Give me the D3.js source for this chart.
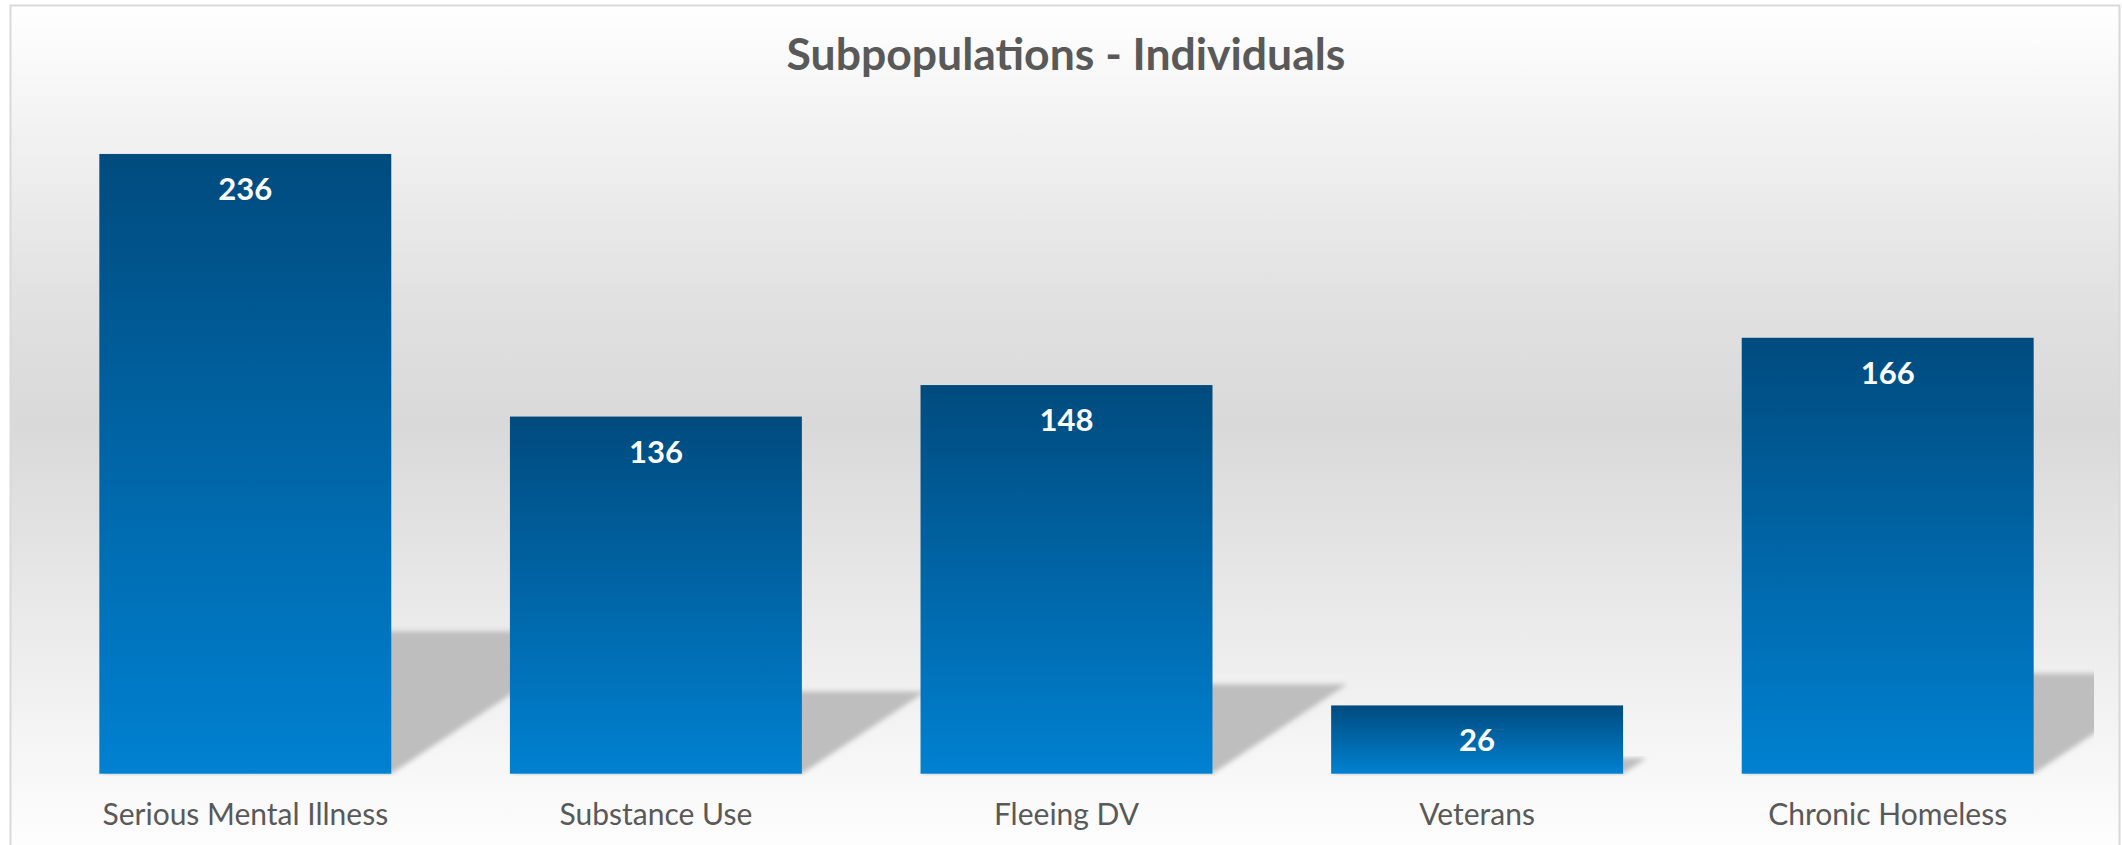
<!DOCTYPE html>
<html lang="en">
<head>
<meta charset="utf-8" />
<title>Subpopulations - Individuals</title>
<script src="https://cdn.jsdelivr.net/npm/d3@7"></script>
<style>
  body { margin: 0; background: #ffffff; }
  svg { display: block; }
  text { font-family: Lato, "Open Sans", sans-serif; }
</style>
</head>
<body>
<div id="chart"></div>
<script>
// data
var categories = ["Serious Mental Illness", "Substance Use", "Fleeing DV", "Veterans", "Chronic Homeless"];
var values = [236, 136, 148, 26, 166];
var title = "Subpopulations - Individuals";

var width = 2122, height = 845;
var plotLeft = 40, plotRight = 2094, baseY = 773.7, yMax = 250;

var svg = d3.select("#chart").append("svg")
    .attr("width", width)
    .attr("height", height);

var defs = svg.append("defs");

// chart background (light grey band in the middle)
var bg = defs.append("linearGradient")
    .attr("id", "bgGrad")
    .attr("gradientUnits", "userSpaceOnUse")
    .attr("x1", 0).attr("y1", 5).attr("x2", 0).attr("y2", 845);
bg.append("stop").attr("offset", "0%").attr("stop-color", "#ffffff");
bg.append("stop").attr("offset", "35%").attr("stop-color", "#e1e1e1");
bg.append("stop").attr("offset", "50%").attr("stop-color", "#d9d9d9");
bg.append("stop").attr("offset", "92%").attr("stop-color", "#f8f8f8");
bg.append("stop").attr("offset", "100%").attr("stop-color", "#fdfdfd");

// bar fill, dark navy on top to bright blue at the bottom
var barGrad = defs.append("linearGradient")
    .attr("id", "barGrad")
    .attr("x1", 0).attr("y1", 0).attr("x2", 0).attr("y2", 1);
barGrad.append("stop").attr("offset", "0%").attr("stop-color", "#004b7e");
barGrad.append("stop").attr("offset", "100%").attr("stop-color", "#0081d1");

defs.append("filter")
    .attr("id", "soft")
    .attr("x", "-10%").attr("y", "-10%").attr("width", "120%").attr("height", "120%")
  .append("feGaussianBlur")
    .attr("stdDeviation", 2.5);

defs.append("clipPath")
    .attr("id", "plotClip")
  .append("rect")
    .attr("x", plotLeft).attr("y", 0)
    .attr("width", plotRight - plotLeft).attr("height", baseY + 2);

svg.append("rect")
    .attr("x", 10.5).attr("y", 5.5)
    .attr("width", 2109).attr("height", 860)
    .attr("fill", "url(#bgGrad)")
    .attr("stroke", "#d9d9d9")
    .attr("stroke-width", 2);

var x = d3.scaleBand()
    .domain(categories)
    .range([plotLeft, plotRight - 1])
    .paddingInner(0.289)
    .paddingOuter(0.1445);

var y = d3.scaleLinear()
    .domain([0, yMax])
    .range([baseY, baseY - yMax * 2.626]);

// perspective shadows cast behind each bar
svg.append("g")
    .attr("clip-path", "url(#plotClip)")
  .selectAll("path")
  .data(values)
  .join("path")
    .attr("d", function(d, i) {
      var x0 = x(categories[i]), x1 = x0 + x.bandwidth();
      var h = y(0) - y(d), sh = h * 0.23, dx = h * 0.346;
      return "M" + x0 + "," + y(0) + "L" + x1 + "," + y(0) +
             "L" + (x1 + dx) + "," + (y(0) - sh) + "L" + (x0 + dx) + "," + (y(0) - sh) + "Z";
    })
    .attr("fill", "#bebebe")
    .attr("filter", "url(#soft)");

svg.append("g")
  .selectAll("rect")
  .data(values)
  .join("rect")
    .attr("x", function(d, i) { return x(categories[i]); })
    .attr("y", function(d) { return y(d); })
    .attr("width", x.bandwidth())
    .attr("height", function(d) { return y(0) - y(d); })
    .attr("fill", "url(#barGrad)");

// value labels inside the top of each bar
svg.append("g")
  .selectAll("text")
  .data(values)
  .join("text")
    .attr("x", function(d, i) { return x(categories[i]) + x.bandwidth() / 2; })
    .attr("y", function(d) { return y(d) + 46; })
    .attr("text-anchor", "middle")
    .attr("fill", "#ffffff")
    .attr("font-size", 31)
    .attr("font-weight", "bold")
    .text(function(d) { return d; });

// category axis, no line or ticks
var xAxis = svg.append("g")
    .attr("transform", "translate(0," + baseY + ")")
    .call(d3.axisBottom(x).tickSize(0).tickPadding(0));
xAxis.select(".domain").remove();
xAxis.selectAll("text")
    .attr("y", 51)
    .attr("dy", 0)
    .attr("fill", "#595959")
    .attr("font-size", 30)
    .attr("font-family", "Lato, 'Open Sans', sans-serif");

svg.append("text")
    .attr("x", 1066)
    .attr("y", 70)
    .attr("text-anchor", "middle")
    .attr("fill", "#595959")
    .attr("font-size", 44.5)
    .attr("font-weight", "bold")
    .text(title);
</script>
</body>
</html>
